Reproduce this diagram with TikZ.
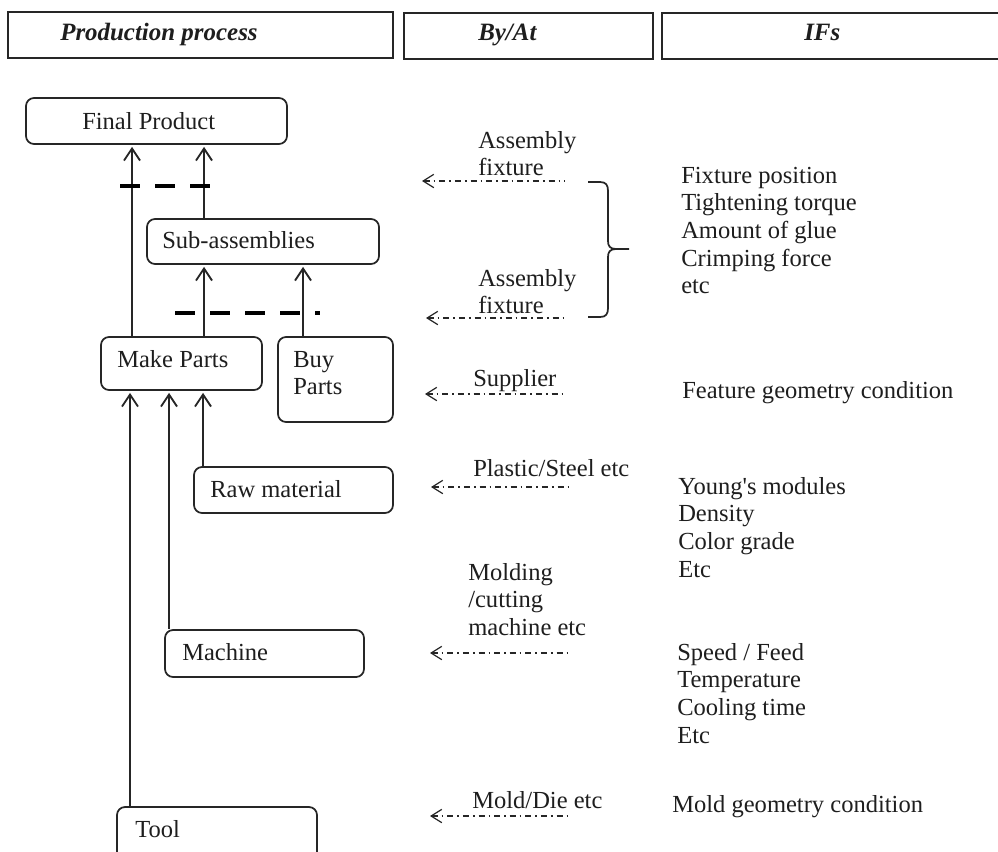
\documentclass[tikz,border=0pt]{standalone}
\usepackage{fontspec}
\setmainfont{Liberation Serif}
\usetikzlibrary{arrows.meta,fit}
\definecolor{ln}{HTML}{262626}
\definecolor{txt}{HTML}{1E1E1E}
\begin{document}
\begin{tikzpicture}[x=0.75pt,y=-0.75pt,
  every node/.style={font=\fontsize{18.4}{20.8}\selectfont, text=txt},
  hb/.style={draw=ln, line width=1.4pt, inner sep=0pt},
  rbox/.style={draw=ln, line width=1.3pt, rounded corners=6pt, inner sep=0pt},
  lbl/.style={anchor=base west, inner sep=0pt},
  hdr/.style={anchor=base west, inner sep=0pt, font=\fontsize{18.7}{20.8}\selectfont\bfseries\itshape},
  arr/.style={draw=ln, line width=1.4pt, shorten >=1.5pt, -{Straight Barb[length=9pt,width=12pt]}},
  dda/.style={draw=ln, line width=0.9pt, dash pattern=on 4.5pt off 3pt on 1.2pt off 3pt, {Straight Barb[length=8pt,width=10pt]}-},
  bd/.style={draw=black, line width=3.5pt, dash pattern=on 15pt off 11.25pt}]
\useasboundingbox (0,0) rectangle (998,851);
\fill[white] (0,0) rectangle (998,851);

% header
\node[hb, fit={(8,12) (393,58)}] (H1) {};
\node[hdr] (H1t) at (60,40) {Production process};
\node[hb, fit={(404,13) (653,59)}] (H2) {};
\node[hdr] (H2t) at (478,40) {By/At};
\node[hb, fit={(662,13) (1010,59)}] (H3) {};
\node[hdr] (H3t) at (804,40) {IFs};

% process boxes
\node[rbox, fit={(26,98) (287,144)}] (FP) {};
\node[lbl] (FPt) at (82,129) {Final Product};
\node[rbox, fit={(147,219) (379,264)}] (SA) {};
\node[lbl] (SAt) at (162,248) {Sub-assemblies};
\node[rbox, fit={(101,337) (262,390)}] (MP) {};
\node[lbl] (MPt) at (117,367) {Make Parts};
\node[rbox, fit={(278,337) (393,422)}] (BP) {};
\node[lbl] (BPt) at (293,367) {\vtop{\hbox{Buy}\hbox{Parts}}};
\node[rbox, fit={(194,467) (393,513)}] (RM) {};
\node[lbl] (RMt) at (210,497) {Raw material};
\node[rbox, fit={(165,630) (364,677)}] (MA) {};
\node[lbl] (MAt) at (182,660) {Machine};
\node[rbox, fit={(117,807) (317,875)}] (TO) {};
\node[lbl] (TOt) at (135,837) {Tool};

% x positions of connectors
\coordinate (xa) at (132,0);
\coordinate (xb) at (204,0);
\coordinate (xc) at (303,0);
\coordinate (xd) at (130,0);
\coordinate (xe) at (169,0);
\coordinate (xf) at (203,0);

\draw[arr] (MP.north -| xa) -- (FP.south -| xa);
\draw[arr] (SA.north -| xb) -- (FP.south -| xb);
\draw[arr] (MP.north -| xb) -- (SA.south -| xb);
\draw[arr] (BP.north -| xc) -- (SA.south -| xc);
\draw[arr] (RM.north -| xf) -- (MP.south -| xf);
\draw[arr] (MA.north -| xe) -- (MP.south -| xe);
\draw[arr] (TO.north -| xd) -- (MP.south -| xd);

% thick dashed separators
\draw[bd] (120,186) -- (212,186);
\draw[bd] (175,313) -- (320,313);

% By/At labels and dash-dot arrows
\node[lbl] (L1) at (478,148) {\vtop{\hbox{Assembly}\hbox{fixture}}};
\coordinate (a1e) at (422,181); \coordinate (a1s) at (565,181);
\draw[dda] (a1e) -- (a1s);
\node[lbl] (L2) at (478,286) {\vtop{\hbox{Assembly}\hbox{fixture}}};
\coordinate (a2e) at (426,318); \coordinate (a2s) at (567,318);
\draw[dda] (a2e) -- (a2s);
\node[lbl] (L3) at (473,386) {Supplier};
\coordinate (a3e) at (425,394); \coordinate (a3s) at (567,394);
\draw[dda] (a3e) -- (a3s);
\node[lbl] (L4) at (473,476) {Plastic/Steel etc};
\coordinate (a4e) at (431,487); \coordinate (a4s) at (573,487);
\draw[dda] (a4e) -- (a4s);
\node[lbl] (L5) at (468,580) {\vtop{\hbox{Molding}\hbox{/cutting}\hbox{machine etc}}};
\coordinate (a5e) at (430,653); \coordinate (a5s) at (572,653);
\draw[dda] (a5e) -- (a5s);
\node[lbl] (L6) at (472,808) {Mold/Die etc};
\coordinate (a6e) at (430,816); \coordinate (a6s) at (572,816);
\draw[dda] (a6e) -- (a6s);

% brace
\draw[ln, line width=1.3pt] (588,182) -- (600,182) .. controls (606,182) and (608,185) .. (608,191) -- (608,241)
  .. controls (608,246) and (610,249) .. (616,249) -- (629,249);
\draw[ln, line width=1.3pt] (616,249) .. controls (610,249) and (608,252) .. (608,257) -- (608,308)
  .. controls (608,314) and (606,317) .. (600,317) -- (588,317);

% IFs
\node[lbl] (I1) at (681,183) {\vtop{\hbox{Fixture position}\hbox{Tightening torque}\hbox{Amount of glue}\hbox{Crimping force}\hbox{etc}}};
\node[lbl] (I2) at (682,398) {Feature geometry condition};
\node[lbl] (I3) at (678,494) {\vtop{\hbox{Young\textquotesingle s modules}\hbox{Density}\hbox{Color grade}\hbox{Etc}}};
\node[lbl] (I4) at (677,660) {\vtop{\hbox{Speed / Feed}\hbox{Temperature}\hbox{Cooling time}\hbox{Etc}}};
\node[lbl] (I5) at (672,812) {Mold geometry condition};
\end{tikzpicture}
\end{document}
